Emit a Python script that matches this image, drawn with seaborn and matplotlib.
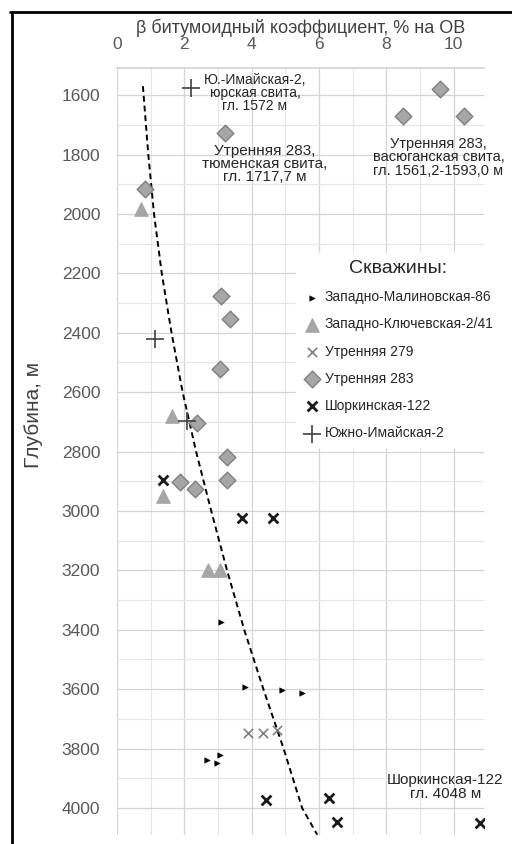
import matplotlib
matplotlib.use("Agg")
import matplotlib.pyplot as plt
import seaborn as sns
from matplotlib.lines import Line2D
from matplotlib.ticker import MultipleLocator

# wells: beta (bitumoid coefficient, % of OM) vs depth (m)
zm86_beta = [3.1, 3.8, 4.9, 5.5, 2.67, 2.96, 3.05]
zm86_depth = [3375, 3593, 3603, 3613, 3840, 3850, 3820]

zk_beta = [0.72, 1.63, 1.37, 2.7, 3.05]
zk_depth = [1985, 2679, 2948, 3200, 3200]

u279_beta = [3.88, 4.33, 4.74]
u279_depth = [3748, 3748, 3738]

u283_beta = [9.6, 8.5, 10.3, 3.2, 0.83, 3.1, 3.35, 3.05, 2.37, 3.26, 3.26, 1.87, 2.31]
u283_depth = [1578, 1670, 1670, 1727, 1916, 2276, 2353, 2521, 2703, 2820, 2897, 2904, 2925]

shk_beta = [1.36, 3.7, 4.63, 4.44, 6.3, 6.55, 10.8]
shk_depth = [2897, 3025, 3025, 3973, 3966, 4047, 4050]

yi_beta = [2.2, 1.13, 2.07]
yi_depth = [1575, 2420, 2696]

trend_depth = [1570, 1800, 2000, 2200, 2400, 2600, 2800, 3000, 3200, 3400, 3600, 3800, 4000, 4090]
trend_beta = [0.77, 0.93, 1.1, 1.33, 1.62, 1.95, 2.35, 2.8, 3.27, 3.78, 4.35, 4.95, 5.5, 5.95]

labels = ["Западно-Малиновская-86", "Западно-Ключевская-2/41", "Утренняя 279",
          "Утренняя 283", "Шоркинская-122", "Южно-Имайская-2"]

sns.set_theme(style="white")
plt.rcParams['font.family'] = ['Liberation Sans', 'DejaVu Sans']

fig, ax = plt.subplots(figsize=(5.12, 8.44), dpi=100)
fig.subplots_adjust(left=0.2285, right=0.945, top=0.919, bottom=0.011)

sns.lineplot(x=trend_beta, y=trend_depth, sort=False, estimator=None, ax=ax,
             color='black', linewidth=1.4, dashes=False, linestyle=(0, (3, 2)), zorder=2)

sns.scatterplot(x=zm86_beta, y=zm86_depth, ax=ax, marker='>', s=16, color='black',
                edgecolor='black', label=labels[0], zorder=3)
sns.scatterplot(x=zk_beta, y=zk_depth, ax=ax, marker='^', s=95, color='#a6a6a6',
                edgecolor='#a6a6a6', label=labels[1], zorder=3)
sns.scatterplot(x=u279_beta, y=u279_depth, ax=ax, marker='x', s=45, color='#7f7f7f',
                linewidth=1.2, label=labels[2], zorder=3)
sns.scatterplot(x=u283_beta, y=u283_depth, ax=ax, marker='D', s=72, color='#a6a6a6',
                edgecolor='#808080', linewidth=1, label=labels[3], zorder=3)
sns.scatterplot(x=shk_beta, y=shk_depth, ax=ax, marker='x', s=50, color='#1a1a1a',
                linewidth=2, label=labels[4], zorder=3)
sns.scatterplot(x=yi_beta, y=yi_depth, ax=ax, marker='+', s=150, color='#404040',
                linewidth=1.2, label=labels[5], zorder=3)

ax.set_xlim(0, 10.9)
ax.set_ylim(4090, 1510)
ax.xaxis.tick_top()
ax.xaxis.set_label_position('top')
ax.set_xticks([0, 2, 4, 6, 8, 10])
ax.xaxis.set_minor_locator(MultipleLocator(1))
ax.set_yticks(range(1600, 4001, 200))
ax.yaxis.set_minor_locator(MultipleLocator(100))
ax.grid(which='major', color='#d4d4d4', linewidth=0.9)
ax.grid(which='minor', color='#e6e6e6', linewidth=0.8)
ax.tick_params(axis='both', which='both', length=0, labelsize=12.5, labelcolor='#595959')
ax.tick_params(axis='x', pad=12)
ax.tick_params(axis='y', pad=12)
for side in ['left', 'right', 'bottom']:
    ax.spines[side].set_visible(False)
ax.spines['top'].set_color('#d4d4d4')

ax.set_xlabel('β битумоидный коэффициент, % на ОВ', fontsize=13, color='#404040', labelpad=3)
ax.set_ylabel('Глубина, м', fontsize=15, color='#404040')
ax.yaxis.set_label_coords(-0.2016, 0.548)

note = dict(ha='center', va='center', color='#262626', linespacing=0.95, zorder=4)
ax.text(4.1, 1593, 'Ю.-Имайская-2,\nюрская свита,\nгл. 1572 м', fontsize=10, **note)
ax.text(4.4, 1832, 'Утренняя 283,\nтюменская свита,\nгл. 1717,7 м', fontsize=11, **note)
ax.text(9.55, 1810, 'Утренняя 283,\nвасюганская свита,\nгл. 1561,2-1593,0 м', fontsize=10.5,
        clip_on=False, **note)
ax.text(9.75, 3929, 'Шоркинская-122\nгл. 4048 м', fontsize=11, clip_on=False, **note)

leg = ax.legend(loc='upper left', bbox_to_anchor=(0.47, 0.768), title='Скважины:',
                fontsize=10, title_fontsize=14, frameon=True, framealpha=1,
                edgecolor='white', facecolor='white', labelspacing=0.95,
                handletextpad=0.35, borderpad=0.5, handlelength=1.2)
leg.set_zorder(5)

# outer frame of the figure (left and top edges)
fig.add_artist(Line2D([0.0234, 0.0234], [0, 0.986], color='black', linewidth=2))
fig.add_artist(Line2D([0.02, 1.0], [0.986, 0.986], color='black', linewidth=2))

plt.savefig('out.png', dpi=100)
plt.close()
